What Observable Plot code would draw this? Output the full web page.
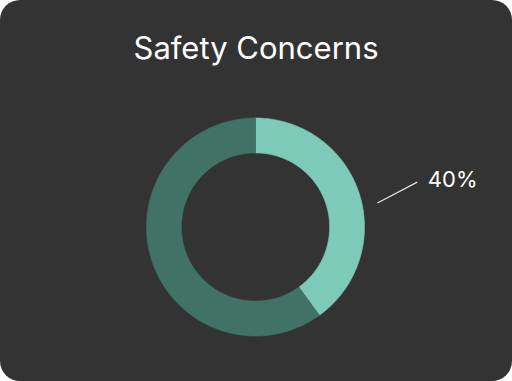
<!DOCTYPE html>
<html>
<head>
<meta charset="utf-8">
<script src="https://cdn.jsdelivr.net/npm/d3@7"></script>
<script src="https://cdn.jsdelivr.net/npm/@observablehq/plot@0.6"></script>
<style>
  html, body { margin: 0; padding: 0; background: #ffffff; }
  #card {
    position: relative; width: 512px; height: 381px;
    background: #333333; border-radius: 20px; overflow: hidden;
    font-family: Inter, "Noto Sans", sans-serif;
  }
  #title {
    position: absolute; left: 0; right: 0; top: 32px; margin: 0;
    text-align: center; color: #ffffff; font-weight: 400;
    font-size: 31px; line-height: 31px; font-family: Inter, sans-serif;
  }
  #chart { position: absolute; left: 0; top: 0; }
  #chart svg { display: block; background: transparent; }
</style>
</head>
<body>
<div id="card">
  <h2 id="title"></h2>
  <div id="chart"></div>
</div>
<script>
const title = "Safety Concerns";
const categories = ["Yes", "No"];
const values = [40, 60];
const colors = ["#7dcab8", "#407366"];
const labelCategory = "Yes";

document.getElementById("title").textContent = title;

const W = 512, H = 381;
const cx = 255, cy = 226.5, R = 109;   // pixel center and outer radius
const innerRatio = 0.68;

// Build ring-segment polygons from the values (angles clockwise from 12 o'clock)
const total = d3.sum(values);
const pts = [];
const labels = [];
let acc = 0;
categories.forEach((c, i) => {
  const a0 = acc / total * 2 * Math.PI;
  acc += values[i];
  const a1 = acc / total * 2 * Math.PI;
  const n = 120;
  for (let k = 0; k <= n; k++) {
    const a = a0 + (a1 - a0) * k / n;
    pts.push({key: c, x: Math.sin(a), y: Math.cos(a)});
  }
  for (let k = n; k >= 0; k--) {
    const a = a0 + (a1 - a0) * k / n;
    pts.push({key: c, x: innerRatio * Math.sin(a), y: innerRatio * Math.cos(a)});
  }
  if (c === labelCategory) {
    const mid = (a0 + a1) / 2;
    const deg = Math.PI / 180;
    const s = mid + 6.9 * deg, e = mid + 2.5 * deg, t = mid + 2.6 * deg;
    labels.push({
      text: Math.round(values[i] / total * 100) + "%",
      x1: 1.14 * Math.sin(s), y1: 1.14 * Math.cos(s),
      x2: 1.54 * Math.sin(e), y2: 1.54 * Math.cos(e),
      tx: 1.64 * Math.sin(t), ty: 1.64 * Math.cos(t)
    });
  }
});

const chart = Plot.plot({
  width: W, height: H,
  margin: 0,
  style: {background: "transparent", fontFamily: "Inter, sans-serif"},
  x: {domain: [-cx / R, (W - cx) / R], axis: null},
  y: {domain: [-(H - cy) / R, cy / R], axis: null},
  color: {domain: categories, range: colors},
  marks: [
    Plot.line(pts, {x: "x", y: "y", z: "key", fill: "key", stroke: "key", strokeWidth: 0.6, curve: "linear"}),
    Plot.link(labels, {x1: "x1", y1: "y1", x2: "x2", y2: "y2", stroke: "#e6e6e6", strokeWidth: 1.2}),
    Plot.text(labels, {x: "tx", y: "ty", text: "text", textAnchor: "start", fill: "#ffffff", fontSize: 22, fontFamily: "Inter, sans-serif", fontWeight: 400})
  ]
});
document.getElementById("chart").appendChild(chart);
</script>
</body>
</html>
